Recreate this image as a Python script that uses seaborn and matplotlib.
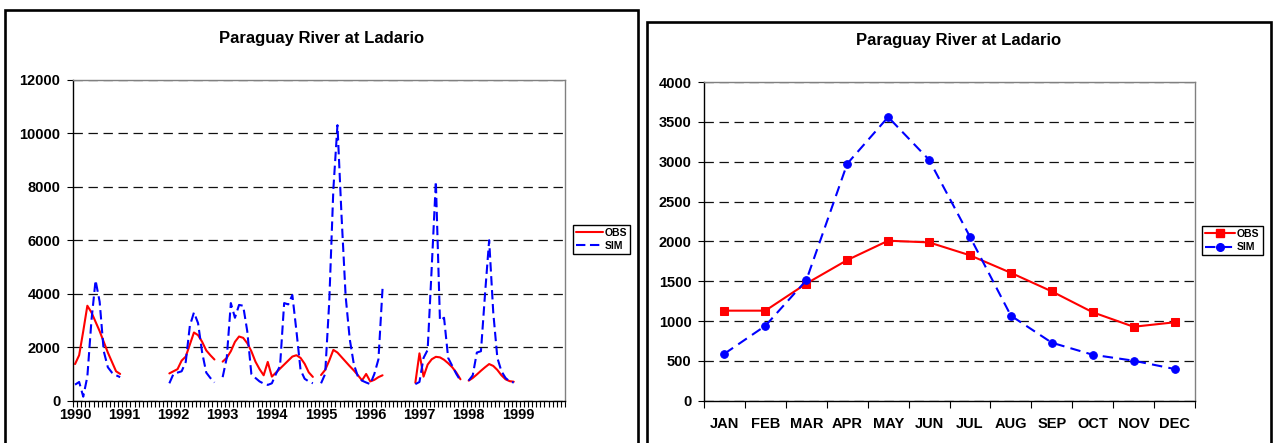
import numpy as np
import pandas as pd
import matplotlib
matplotlib.use("Agg")
import matplotlib.pyplot as plt
import seaborn as sns
from matplotlib.lines import Line2D
from matplotlib.patches import Rectangle

sns.set_theme(style="white")
plt.rcParams["font.family"] = ["Liberation Sans", "DejaVu Sans"]
plt.rcParams["font.weight"] = "bold"
plt.rcParams["text.color"] = "black"
plt.rcParams["xtick.color"] = "black"
plt.rcParams["ytick.color"] = "black"
plt.rcParams["xtick.labelcolor"] = "black"
plt.rcParams["ytick.labelcolor"] = "black"
plt.rcParams["axes.labelcolor"] = "black"

N = np.nan
title = "Paraguay River at Ladario"
years = ["1990", "1991", "1992", "1993", "1994", "1995", "1996", "1997", "1998", "1999"]

# monthly series Jan 1990 .. Dec 1999 (NaN = missing)
obs_1990 = [1370, 1700, 2600, 3550, 3300, 2950, 2600, 2200, 1800, 1450, 1100, 1000]
obs_1991 = [N, N, N, N, N, N, N, N, N, N, N, 1020]
obs_1992 = [1100, 1180, 1500, 1650, 2100, 2550, 2450, 2200, 1880, 1700, 1540, N]
obs_1993 = [1460, 1600, 1850, 2200, 2400, 2350, 2150, 1850, 1460, 1180, 950, 1450]
obs_1994 = [900, 1050, 1200, 1350, 1500, 1650, 1700, 1600, 1380, 1060, 890, N]
obs_1995 = [960, 1150, 1500, 1900, 1800, 1630, 1460, 1290, 1130, 950, 760, 1000]
obs_1996 = [720, 780, 880, 950, N, N, N, N, N, N, N, 670]
obs_1997 = [1770, 900, 1350, 1550, 1640, 1620, 1530, 1400, 1250, 1050, 800, N]
obs_1998 = [750, 850, 980, 1120, 1250, 1370, 1300, 1150, 950, 800, 730, 710]
obs_1999 = [N] * 12

sim_1990 = [600, 700, 150, 900, 3000, 4500, 3700, 1850, 1250, 1050, 950, 880]
sim_1991 = [N, N, N, N, N, N, N, N, N, N, N, 650]
sim_1992 = [1000, 1050, 1100, 1450, 2800, 3300, 2900, 1800, 1050, 850, 680, N]
sim_1993 = [880, 1600, 3650, 3100, 3580, 3550, 2600, 1000, 850, 720, 640, 590]
sim_1994 = [650, 1000, 1300, 3650, 3600, 3950, 2600, 1150, 820, 720, 650, N]
sim_1995 = [650, 1000, 3700, 7900, 10300, 6900, 3900, 2300, 1360, 900, 750, 680]
sim_1996 = [620, 1000, 1550, 4200, N, N, N, N, N, N, N, 620]
sim_1997 = [700, 1600, 1900, 5000, 8200, 3000, 3100, 1600, 1300, 1000, 750, N]
sim_1998 = [750, 950, 1800, 1850, 4000, 6000, 3300, 1600, 1100, 850, 720, 680]
sim_1999 = [N] * 12

obs_monthly = (obs_1990 + obs_1991 + obs_1992 + obs_1993 + obs_1994 + obs_1995
               + obs_1996 + obs_1997 + obs_1998 + obs_1999)
sim_monthly = (sim_1990 + sim_1991 + sim_1992 + sim_1993 + sim_1994 + sim_1995
               + sim_1996 + sim_1997 + sim_1998 + sim_1999)

months = ["JAN", "FEB", "MAR", "APR", "MAY", "JUN", "JUL", "AUG", "SEP", "OCT", "NOV", "DEC"]
obs_mean = [1130, 1130, 1470, 1765, 2008, 1987, 1825, 1605, 1372, 1110, 928, 984]
sim_mean = [590, 940, 1511, 2974, 3560, 3024, 2058, 1067, 728, 577, 502, 398]

W, H = 1274, 443
fig = plt.figure(figsize=(W / 100, H / 100), dpi=100)

RED = "#FF0000"
BLUE = "#0000FF"
sim_dash_ts = (0, (4.5, 2.2))
sim_dash_mm = (0, (5, 3))


def style_axes(ax):
    ax.set_facecolor("white")
    for s in ["left", "bottom"]:
        ax.spines[s].set_color("black")
        ax.spines[s].set_linewidth(1.0)
    for s in ["top", "right"]:
        ax.spines[s].set_color("#808080")
        ax.spines[s].set_linewidth(1.0)
    ax.yaxis.grid(True, linestyle=(0, (7.5, 4.5)), color="#111111", linewidth=0.9)
    ax.xaxis.grid(False)
    ax.set_axisbelow(True)
    ax.set_xlabel("")
    ax.set_ylabel("")


# ---------------- left: time series ----------------
ax1 = fig.add_axes([73 / W, 42.3 / H, 492 / W, 321 / H])
df = pd.DataFrame({"t": np.arange(len(obs_monthly)), "OBS": obs_monthly, "SIM": sim_monthly})
for name, color, ls in [("OBS", RED, "-"), ("SIM", BLUE, sim_dash_ts)]:
    d = df[["t", name]].copy()
    d["seg"] = d[name].isna().cumsum()
    d = d.dropna()
    sns.lineplot(data=d, x="t", y=name, units="seg", estimator=None, color=color,
                 linewidth=1.5, linestyle=ls, ax=ax1, legend=False)
style_axes(ax1)
ax1.set_xlim(-0.5, 119.5)
ax1.set_ylim(0, 12000)
ax1.set_yticks(np.arange(0, 12001, 2000))
ax1.set_xticks(np.arange(0, 120, 12))
ax1.set_xticklabels(years)
ax1.set_xticks(np.arange(-0.5, 120, 1), minor=True)
ax1.tick_params(axis="x", which="major", length=0, pad=5, labelsize=10.5)
ax1.tick_params(axis="x", which="minor", length=4, width=0.8, color="black", direction="out", bottom=True)
ax1.tick_params(axis="y", which="major", length=4, width=0.8, color="black", direction="out",
                left=True, pad=5, labelsize=10.5)
for lab in ax1.get_xticklabels() + ax1.get_yticklabels():
    lab.set_fontweight("bold")
    lab.set_color("black")

h1 = [Line2D([], [], color=RED, lw=1.5), Line2D([], [], color=BLUE, lw=1.5, ls=sim_dash_ts)]
leg1 = fig.legend(h1, ["OBS", "SIM"], loc="upper left", bbox_to_anchor=(573 / W, 1 - 224.5 / H),
                  bbox_transform=fig.transFigure, frameon=True, fancybox=False, framealpha=1,
                  edgecolor="black", borderpad=0.3, handlelength=2.6, handletextpad=0.15,
                  labelspacing=0.3, borderaxespad=0, prop={"size": 7.5, "weight": "bold"})
leg1.get_frame().set_linewidth(1.0)

# ---------------- right: monthly means ----------------
ax2 = fig.add_axes([704 / W, 42.3 / H, 491 / W, 318.7 / H])
dm = pd.DataFrame({"m": np.arange(12), "OBS": obs_mean, "SIM": sim_mean})
sns.lineplot(data=dm, x="m", y="OBS", color=RED, linewidth=1.5, marker="s", markersize=5.5,
             markeredgecolor=RED, ax=ax2, legend=False)
sns.lineplot(data=dm, x="m", y="SIM", color=BLUE, linewidth=1.5, linestyle=sim_dash_mm, marker="o",
             markersize=5.5, markeredgecolor=BLUE, ax=ax2, legend=False)
style_axes(ax2)
ax2.set_xlim(-0.5, 11.5)
ax2.set_ylim(0, 4000)
ax2.set_yticks(np.arange(0, 4001, 500))
ax2.set_xticks(np.arange(12))
ax2.set_xticklabels(months)
ax2.set_xticks(np.arange(-0.5, 12, 1), minor=True)
ax2.tick_params(axis="x", which="major", length=0, pad=12, labelsize=10.5)
ax2.tick_params(axis="x", which="minor", length=5, width=0.8, color="black", direction="out", bottom=True)
ax2.tick_params(axis="y", which="major", length=4, width=0.8, color="black", direction="out",
                left=True, pad=5, labelsize=10.5)
for lab in ax2.get_xticklabels() + ax2.get_yticklabels():
    lab.set_fontweight("bold")
    lab.set_color("black")

h2 = [Line2D([], [], color=RED, lw=1.5, marker="s", markersize=5.5),
      Line2D([], [], color=BLUE, lw=1.5, ls=sim_dash_mm, marker="o", markersize=5.5)]
leg2 = fig.legend(h2, ["OBS", "SIM"], loc="upper left", bbox_to_anchor=(1202 / W, 1 - 226 / H),
                  bbox_transform=fig.transFigure, frameon=True, fancybox=False, framealpha=1,
                  edgecolor="black", borderpad=0.3, handlelength=2.9, handletextpad=0.15,
                  labelspacing=0.3, borderaxespad=0, prop={"size": 7.5, "weight": "bold"})
leg2.get_frame().set_linewidth(1.0)
for leg in (leg1, leg2):
    for t in leg.get_texts():
        t.set_color("black")

# ---------------- titles and chart frames ----------------
fig.text(321.5 / W, 1 - 39 / H, title, ha="center", va="center", fontsize=12, fontweight="bold",
         color="black")
fig.text(959 / W, 1 - 41 / H, title, ha="center", va="center", fontsize=12, fontweight="bold",
         color="black")

fig.add_artist(Rectangle((5 / W, -0.1), (638.5 - 5) / W, 1.1 - 10 / H, transform=fig.transFigure,
                         fill=False, edgecolor="black", linewidth=1.9))
fig.add_artist(Rectangle((646.5 / W, -0.1), (1271 - 646.5) / W, 1.1 - 21.5 / H, transform=fig.transFigure,
                         fill=False, edgecolor="black", linewidth=1.9))

fig.savefig("out.png", dpi=100, facecolor="white")
